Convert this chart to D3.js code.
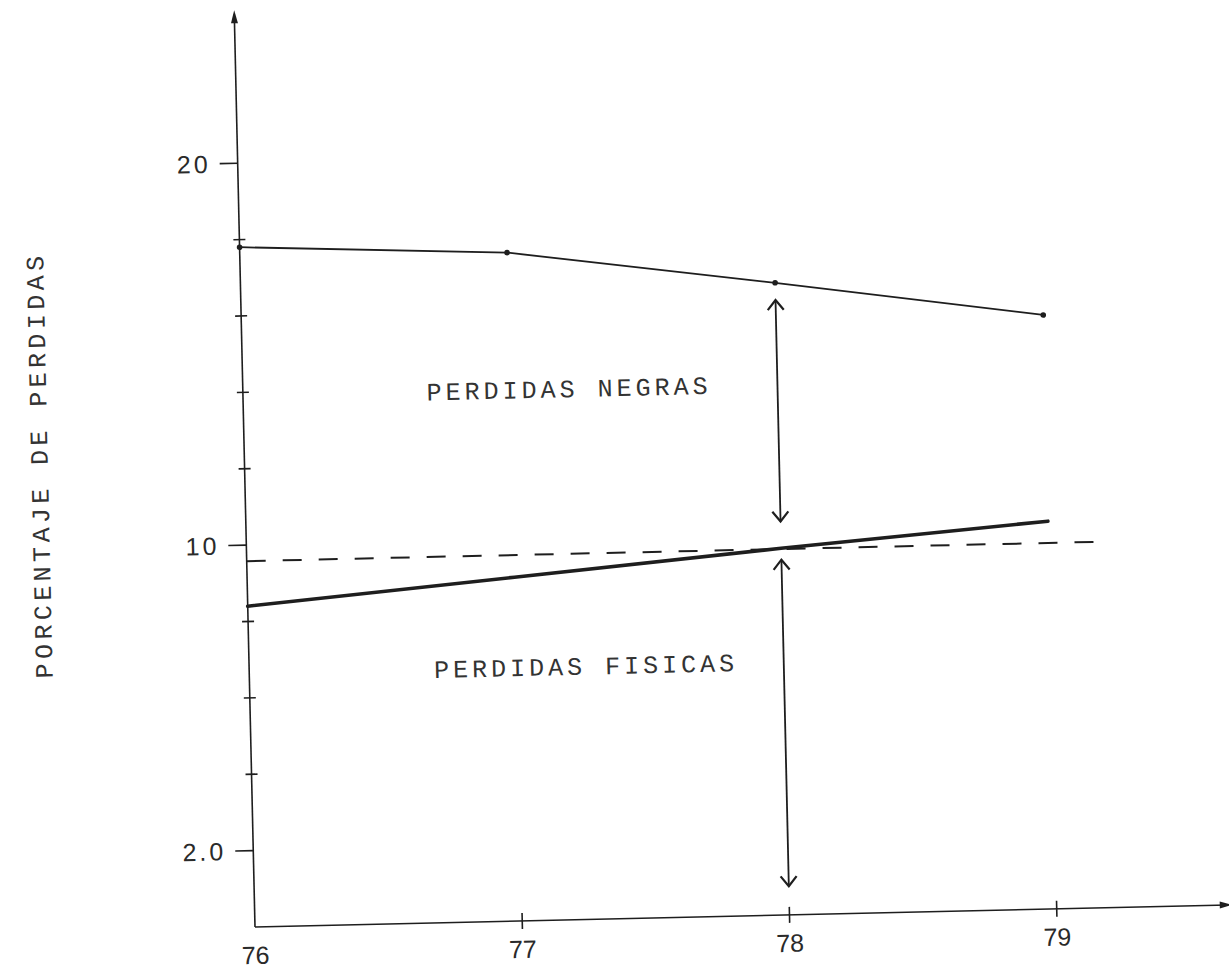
<!DOCTYPE html>
<html>
<head>
<meta charset="utf-8">
<script src="https://cdn.jsdelivr.net/npm/d3@7/dist/d3.min.js"></script>
<style>
  html, body { margin: 0; padding: 0; background: #fff; }
  svg { display: block; }
</style>
</head>
<body>
<script>
// ---- data ----
const years = [76, 77, 78, 79];
const perdidasTotales = [17.8, 17.5, 16.55, 15.55];   // upper thin line
const perdidasFisicas = [8.4, 9.0, 9.6, 10.15];       // lower thick line
const referenciaY = 9.58;                              // dashed horizontal line
const referenciaX = [76, 79.2];
const yTickValues = [2, 4, 6, 8, 10, 12, 14, 16, 18, 20];
const yTickLabels = { 20: "20", 10: "10", 2: "2.0" };
const xTickValues = [76, 77, 78, 79];
const xTickLabels = ["76", "77", "78", "79"];
const arrowSpans = [
  { x: 78, from: 16.1, to: 10.3 },
  { x: 78, from: 9.3, to: 0.75 }
];
const annotations = [
  { text: "PERDIDAS NEGRAS", x: 77.22, y: 13.85 },
  { text: "PERDIDAS FISICAS", x: 77.26, y: 6.58 }
];
const yTitle = "PORCENTAJE DE PERDIDAS";

// ---- layout ----
const W = 1229, H = 975;
const ink = "#1e1e1e";
const svg = d3.select("body").append("svg").attr("width", W).attr("height", H);

const g = svg.append("g").attr("transform", "translate(255,927) rotate(-1.3)");

const x = d3.scaleLinear().domain([76, 79.64]).range([0, 973]);
const y = d3.scaleLinear().domain([0, 23.9]).range([0, -23.9 * 38.2]);

// axes lines
g.append("line").attr("x1", x(76)).attr("y1", y(0)).attr("x2", x(76)).attr("y2", y(23.9))
  .attr("stroke", ink).attr("stroke-width", 1.6);
g.append("line").attr("x1", x(76)).attr("y1", y(0)).attr("x2", x(79.64)).attr("y2", y(0))
  .attr("stroke", ink).attr("stroke-width", 1.6);
// arrowheads on axes
g.append("path")
  .attr("d", `M${x(76)},${y(23.9) - 4} L${x(76) - 3.5},${y(23.9) + 9} L${x(76) + 3.5},${y(23.9) + 9} Z`)
  .attr("fill", ink);
g.append("path")
  .attr("d", `M${x(79.64) + 4},${y(0)} L${x(79.64) - 8},${y(0) - 3.5} L${x(79.64) - 8},${y(0) + 3.5} Z`)
  .attr("fill", ink);

// y ticks
yTickValues.forEach(v => {
  const labelled = yTickLabels[v] !== undefined;
  g.append("line")
    .attr("x1", labelled ? -18 : -6).attr("x2", labelled ? 0 : 6)
    .attr("y1", y(v)).attr("y2", y(v))
    .attr("stroke", ink).attr("stroke-width", 1.6);
  if (labelled) {
    g.append("text")
      .attr("x", -27).attr("y", y(v))
      .attr("text-anchor", "end").attr("dominant-baseline", "central")
      .attr("font-family", "Liberation Sans, Arial, sans-serif")
      .attr("font-size", 25).attr("letter-spacing", 3)
      .attr("fill", "#2a2a2a")
      .text(yTickLabels[v]);
  }
});

// x ticks
xTickValues.forEach((v, i) => {
  if (v !== 76) {
    g.append("line")
      .attr("x1", x(v)).attr("x2", x(v)).attr("y1", y(0) - 8).attr("y2", y(0) + 8)
      .attr("stroke", ink).attr("stroke-width", 1.6);
  }
  g.append("text")
    .attr("x", x(v)).attr("y", y(0) + 37)
    .attr("text-anchor", "middle")
    .attr("font-family", "Liberation Sans, Arial, sans-serif")
    .attr("font-size", 25)
    .attr("fill", "#2a2a2a")
    .text(xTickLabels[i]);
});

// dashed reference line
g.append("line")
  .attr("x1", x(referenciaX[0])).attr("x2", x(referenciaX[1]))
  .attr("y1", y(referenciaY)).attr("y2", y(referenciaY))
  .attr("stroke", ink).attr("stroke-width", 2)
  .attr("stroke-dasharray", "19 17");

const line = d3.line().x(d => x(d[0])).y(d => y(d[1]));

// upper line
g.append("path")
  .datum(years.map((yr, i) => [yr, perdidasTotales[i]]))
  .attr("d", line).attr("fill", "none")
  .attr("stroke", ink).attr("stroke-width", 1.8);
g.selectAll(".dotT").data(years.map((yr, i) => [yr, perdidasTotales[i]]))
  .enter().append("circle")
  .attr("cx", d => x(d[0])).attr("cy", d => y(d[1])).attr("r", 2.8).attr("fill", ink);

// lower thick line
g.append("path")
  .datum(years.map((yr, i) => [yr, perdidasFisicas[i]]))
  .attr("d", line).attr("fill", "none")
  .attr("stroke", ink).attr("stroke-width", 3.6).attr("stroke-linecap", "round");

// double-headed arrows
arrowSpans.forEach(a => {
  const xp = x(a.x), y1 = y(a.from), y2 = y(a.to);
  g.append("line").attr("x1", xp).attr("x2", xp).attr("y1", y1).attr("y2", y2)
    .attr("stroke", ink).attr("stroke-width", 1.8);
  [[y1, 1], [y2, -1]].forEach(([yy, dir]) => {
    g.append("path")
      .attr("d", `M${xp - 8},${yy + dir * 10} L${xp},${yy} L${xp + 8},${yy + dir * 10}`)
      .attr("fill", "none").attr("stroke", ink).attr("stroke-width", 2.2)
      .attr("stroke-linejoin", "miter");
  });
});

// annotations
annotations.forEach(a => {
  g.append("text")
    .attr("x", x(a.x)).attr("y", y(a.y))
    .attr("text-anchor", "middle").attr("dominant-baseline", "central")
    .attr("font-family", "Liberation Mono, Courier New, monospace")
    .attr("font-size", 25).attr("letter-spacing", 4)
    .attr("fill", "#333")
    .text(a.text);
});

// y axis title
g.append("text")
  .attr("transform", `translate(${x(75.24)},${y(12.22)}) rotate(-90)`)
  .attr("text-anchor", "middle").attr("dominant-baseline", "central")
  .attr("font-family", "Liberation Mono, Courier New, monospace")
  .attr("font-size", 25).attr("letter-spacing", 4.4)
  .attr("fill", "#333")
  .text(yTitle);
</script>
</body>
</html>
